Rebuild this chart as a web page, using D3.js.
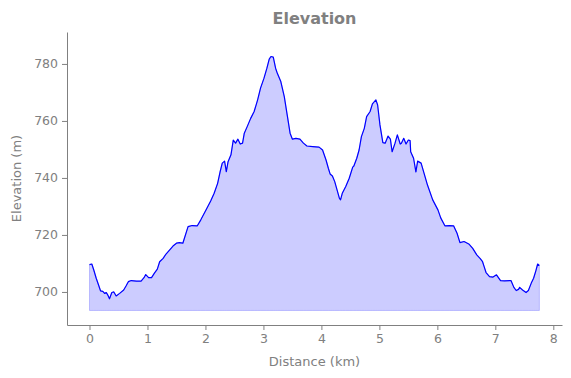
<!DOCTYPE html>
<html>
<head>
<meta charset="utf-8">
<script src="https://cdn.jsdelivr.net/npm/d3@7"></script>
<style>
  body { margin: 0; background: #fff; }
  text { font-family: "DejaVu Sans", sans-serif; fill: #808080; }
  .axis path, .axis line { stroke: #808080; }
</style>
</head>
<body>
<div id="chart"></div>
<script>
// distance along the track (km) and elevation (m)
var distance = [0.00, 0.04, 0.074, 0.116, 0.155, 0.19, 0.23, 0.26, 0.29, 0.316, 0.345, 0.385, 0.42, 0.46, 0.52,
  0.59, 0.63, 0.67, 0.72, 0.81, 0.89, 0.94, 0.97, 1.02, 1.07, 1.12, 1.17, 1.21, 1.27, 1.32, 1.38, 1.44, 1.50,
  1.55, 1.61, 1.70, 1.77, 1.86, 1.92, 2.00, 2.09, 2.15, 2.21, 2.25, 2.29, 2.33, 2.36, 2.39, 2.44, 2.48, 2.52,
  2.56, 2.60, 2.64, 2.67, 2.72, 2.78, 2.84, 2.90, 2.95, 3.01, 3.06, 3.10, 3.13, 3.17, 3.21, 3.24, 3.30, 3.36,
  3.41, 3.46, 3.50, 3.56, 3.63, 3.69, 3.75, 3.85, 3.96, 4.02, 4.08, 4.12, 4.15, 4.19, 4.23, 4.27, 4.31, 4.33,
  4.36, 4.42, 4.48, 4.54, 4.56, 4.61, 4.65, 4.69, 4.74, 4.78, 4.84, 4.88, 4.94, 4.97, 5.01, 5.06, 5.10, 5.15,
  5.19, 5.22, 5.27, 5.31, 5.36, 5.38, 5.42, 5.46, 5.50, 5.53, 5.54, 5.59, 5.63, 5.66, 5.72, 5.77, 5.83, 5.92,
  6.01, 6.06, 6.13, 6.21, 6.28, 6.34, 6.39, 6.46, 6.55, 6.61, 6.68, 6.74, 6.78, 6.81, 6.84, 6.90, 6.96, 7.02,
  7.09, 7.16, 7.27, 7.32, 7.36, 7.40, 7.42, 7.47, 7.53, 7.57, 7.62, 7.66, 7.70, 7.73, 7.76];
var elevation = [709.6, 709.8, 707.7, 704.8, 702.5, 700.4, 700.2, 699.5, 699.8, 698.9, 697.6, 699.8, 700.0, 698.6, 699.5,
  700.7, 702.1, 703.6, 704.0, 703.8, 703.8, 705.0, 706.1, 705.0, 705.0, 706.6, 708.0, 710.6, 711.8, 713.3, 714.7, 716.1, 717.1,
  717.3, 717.1, 722.9, 723.3, 723.2, 725.3, 728.4, 731.9, 734.6, 738.1, 741.9, 745.2, 745.9, 742.2, 745.7, 748.1, 753.3, 752.2,
  753.6, 751.9, 752.2, 755.7, 758.0, 760.9, 763.3, 767.4, 771.5, 775.0, 778.5, 781.7, 782.6, 782.4, 778.5, 776.7, 773.8, 768.5,
  762.1, 755.7, 753.6, 753.9, 753.6, 752.2, 751.2, 751.0, 750.8, 749.8, 746.3, 743.4, 741.4, 740.7, 738.7, 735.8, 732.9, 732.3,
  734.6, 737.0, 739.9, 743.8, 744.2, 746.9, 749.8, 754.5, 757.4, 761.5, 763.3, 766.0, 767.4, 765.6, 758.6, 752.4, 752.2, 754.7,
  753.6, 749.2, 752.2, 755.1, 751.9, 752.2, 753.9, 751.9, 753.3, 753.1, 749.2, 746.9, 742.1, 745.9, 745.2, 741.7, 737.5, 732.3,
  728.8, 725.9, 723.2, 723.3, 723.2, 720.6, 717.3, 717.7, 716.7, 715.3, 713.0, 711.7, 710.6, 708.7, 706.8, 705.4, 705.2, 706.0,
  704.0, 703.9, 704.0, 701.6, 700.5, 700.9, 701.6, 700.7, 699.8, 700.5, 703.1, 704.8, 707.5, 709.8, 709.3];
var baseElevation = 693.5;
var xTicks = [0, 1, 2, 3, 4, 5, 6, 7, 8];
var yTicks = [700, 720, 740, 760, 780];

var width = 571, height = 378;
var margin = { top: 32, right: 9, bottom: 53, left: 67 };

var points = distance.map(function(d, i) { return { x: d, y: elevation[i] }; });

var x = d3.scaleLinear()
  .domain([-0.388, 8.15])
  .range([margin.left, width - margin.right]);

var y = d3.scaleLinear()
  .domain([688.4, 791.2])
  .range([height - margin.bottom, margin.top]);

var svg = d3.select("#chart").append("svg")
  .attr("width", width)
  .attr("height", height);

var area = d3.area()
  .x(function(d) { return x(d.x); })
  .y0(y(baseElevation))
  .y1(function(d) { return y(d.y); });

var line = d3.line()
  .x(function(d) { return x(d.x); })
  .y(function(d) { return y(d.y); });

svg.append("path")
  .datum(points)
  .attr("d", area)
  .attr("fill", "rgba(0,0,255,0.2)")
  .attr("stroke", "rgba(0,0,255,0.2)")
  .attr("stroke-width", 1);

svg.append("path")
  .datum(points)
  .attr("d", line)
  .attr("fill", "none")
  .attr("stroke", "#0000ff")
  .attr("stroke-width", 1.2)
  .attr("stroke-linejoin", "round");

var xAxis = d3.axisBottom(x).tickValues(xTicks).tickSize(5).tickPadding(4).tickSizeOuter(0);
var yAxis = d3.axisLeft(y).tickValues(yTicks).tickSize(5).tickPadding(4).tickSizeOuter(0);

svg.append("g")
  .attr("class", "axis")
  .attr("transform", "translate(0," + (height - margin.bottom) + ")")
  .call(xAxis)
  .selectAll("text").style("font-size", "12.5px").attr("fill", "#808080");

svg.append("g")
  .attr("class", "axis")
  .attr("transform", "translate(" + margin.left + ",0)")
  .call(yAxis)
  .selectAll("text").style("font-size", "12.5px").attr("fill", "#808080");

svg.selectAll(".axis .domain").attr("stroke", "#808080");

var cx = (margin.left + width - margin.right) / 2;

svg.append("text")
  .attr("x", cx)
  .attr("y", 24)
  .attr("text-anchor", "middle")
  .style("font-size", "16px")
  .style("font-weight", "bold")
  .text("Elevation");

svg.append("text")
  .attr("x", cx)
  .attr("y", 366)
  .attr("text-anchor", "middle")
  .style("font-size", "13px")
  .text("Distance (km)");

svg.append("text")
  .attr("transform", "translate(21," + ((margin.top + height - margin.bottom) / 2) + ") rotate(-90)")
  .attr("text-anchor", "middle")
  .style("font-size", "13px")
  .text("Elevation (m)");
</script>
</body>
</html>
